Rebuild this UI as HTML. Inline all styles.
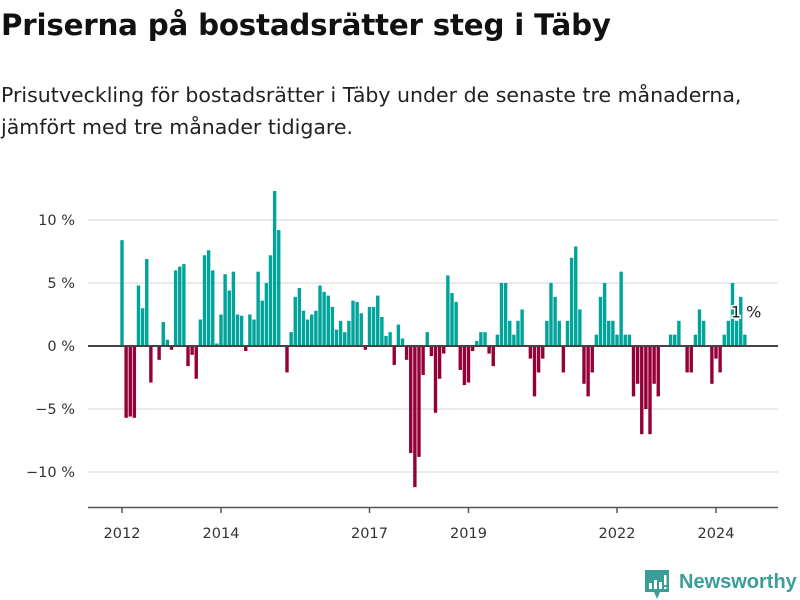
<!DOCTYPE html>
<html><head><meta charset="utf-8">
<style>
body{margin:0;width:800px;height:600px;background:#fff;font-family:"DejaVu Sans",sans-serif;overflow:hidden;position:relative}
h1{position:absolute;left:1px;top:8px;margin:0;font-size:29.3px;font-weight:bold;color:#111;letter-spacing:-0.2px;white-space:nowrap}
.sub{position:absolute;left:1px;top:79px;margin:0;font-size:20.5px;line-height:32px;color:#222;white-space:nowrap}
svg{position:absolute;left:0;top:0}
</style></head><body>
<h1>Priserna på bostadsrätter steg i Täby</h1>
<p class="sub">Prisutveckling för bostadsrätter i Täby under de senaste tre månaderna,<br>jämfört med tre månader tidigare.</p>
<svg id="chart" width="800" height="600"></svg>
<script>
const values=[8.4,-5.7,-5.6,-5.7,4.8,3.0,6.9,-2.9,0,-1.1,1.9,0.5,-0.3,6.0,6.3,6.5,-1.6,-0.7,-2.6,2.1,7.2,7.6,6.0,0.2,2.5,5.7,4.4,5.9,2.5,2.4,-0.4,2.5,2.1,5.9,3.6,5.0,7.2,12.3,9.2,
0,-2.1,1.1,3.9,4.6,2.8,2.1,2.5,2.8,4.8,4.3,4.0,3.1,1.3,2.0,1.1,2.0,3.6,3.5,2.6,-0.3,3.1,3.1,4.0,2.3,0.8,1.1,-1.5,1.7,0.6,-1.1,-8.5,-11.2,-8.8,-2.3,1.1,-0.8,-5.3,-2.6,
-0.6,5.6,4.2,3.5,-1.9,-3.1,-2.9,-0.4,0.4,1.1,1.1,-0.6,-1.6,0.9,5.0,5.0,2.0,0.9,2.0,2.9,0,-1.0,-4.0,-2.1,-1.0,2.0,5.0,3.9,2.0,-2.1,2.0,7.0,7.9,2.9,-3.0,-4.0,-2.1,
0.9,3.9,5.0,2.0,2.0,0.9,5.9,0.9,0.9,-4.0,-3.0,-7.0,-5.0,-7.0,-3.0,-4.0,0,0,0.9,0.9,2.0,0,-2.1,-2.1,0.9,2.9,2.0,0,-3.0,-1.0,-2.1,0.9,2.0,5.0,2.0,3.9,0.9];
const startYear=2012;
const yTicks=[10,5,0,-5,-10];
const yTickLabels=["10 %","5 %","0 %","−5 %","−10 %"];
const xTickYears=[2012,2014,2017,2019,2022,2024];
const lastLabel="1 %";

const svg=document.getElementById('chart');
const NS="http://www.w3.org/2000/svg";
const y=v=>346-v*12.6;
const x=m=>122+m*4.125;
const FONT='DejaVu Sans, sans-serif';
function mk(tag,attrs){const e=document.createElementNS(NS,tag);for(const k in attrs)e.setAttribute(k,attrs[k]);svg.appendChild(e);return e;}
yTicks.forEach((t,i)=>{
  if(t!==0){const g=mk('line',{x1:88,x2:778,y1:y(t),y2:y(t),stroke:'#e3e3e3','stroke-width':1.5});
  
  }
  const tx=mk('text',{x:75,y:y(t)+5,'text-anchor':'end','font-size':14.5,fill:'#333','font-family':FONT});
  tx.textContent=yTickLabels[i];
  
  
});
values.forEach((v,m)=>{
  if(v===0)return;
  const r=mk('rect',{x:x(m)-1.7,width:3.4,y:Math.min(y(v),y(0)),height:Math.abs(y(v)-y(0)),fill:v>0?'#00a49a':'#960039'});
  
  
});
const z=mk('line',{x1:88,x2:778,y1:y(0),y2:y(0),stroke:'#444','stroke-width':2});


const ax=mk('line',{x1:88,x2:778,y1:507.5,y2:507.5,stroke:'#555','stroke-width':1.5});


xTickYears.forEach(yr=>{
  const px=x((yr-startYear)*12);
  const tk=mk('line',{x1:px,x2:px,y1:507,y2:513,stroke:'#555','stroke-width':1.5});
  
  
  const t=mk('text',{x:px,y:538,'text-anchor':'middle','font-size':14.5,fill:'#333','font-family':FONT});
  t.textContent=yr;
  
  
});
const li=values.length-1;
const lb=mk('text',{x:x(li)-14,y:y(values[li])-17,'font-size':16,fill:'#222',stroke:'#fff','stroke-width':3,'paint-order':'stroke','font-family':FONT});
lb.textContent=lastLabel;


</script>
<div style="position:absolute;left:645px;top:570px;display:flex;align-items:center">
<svg width="24" height="30" viewBox="0 0 24 30" style="position:static"><path d="M0 0H24V22H15L12 29L9 22H0Z" fill="#3a9e98"/><rect x="4" y="13" width="3" height="6" fill="#fff"/><rect x="9" y="10" width="3" height="9" fill="#fff"/><rect x="14" y="12" width="3" height="7" fill="#fff"/><rect x="19" y="5" width="2.5" height="10" fill="#fff"/><rect x="19" y="17" width="2.5" height="2" fill="#fff"/></svg>
<span style="margin-left:10px;font-family:'Liberation Sans',sans-serif;font-size:20px;font-weight:bold;color:#3a9e98;margin-top:-6px">Newsworthy</span>
</div>
</body></html>
